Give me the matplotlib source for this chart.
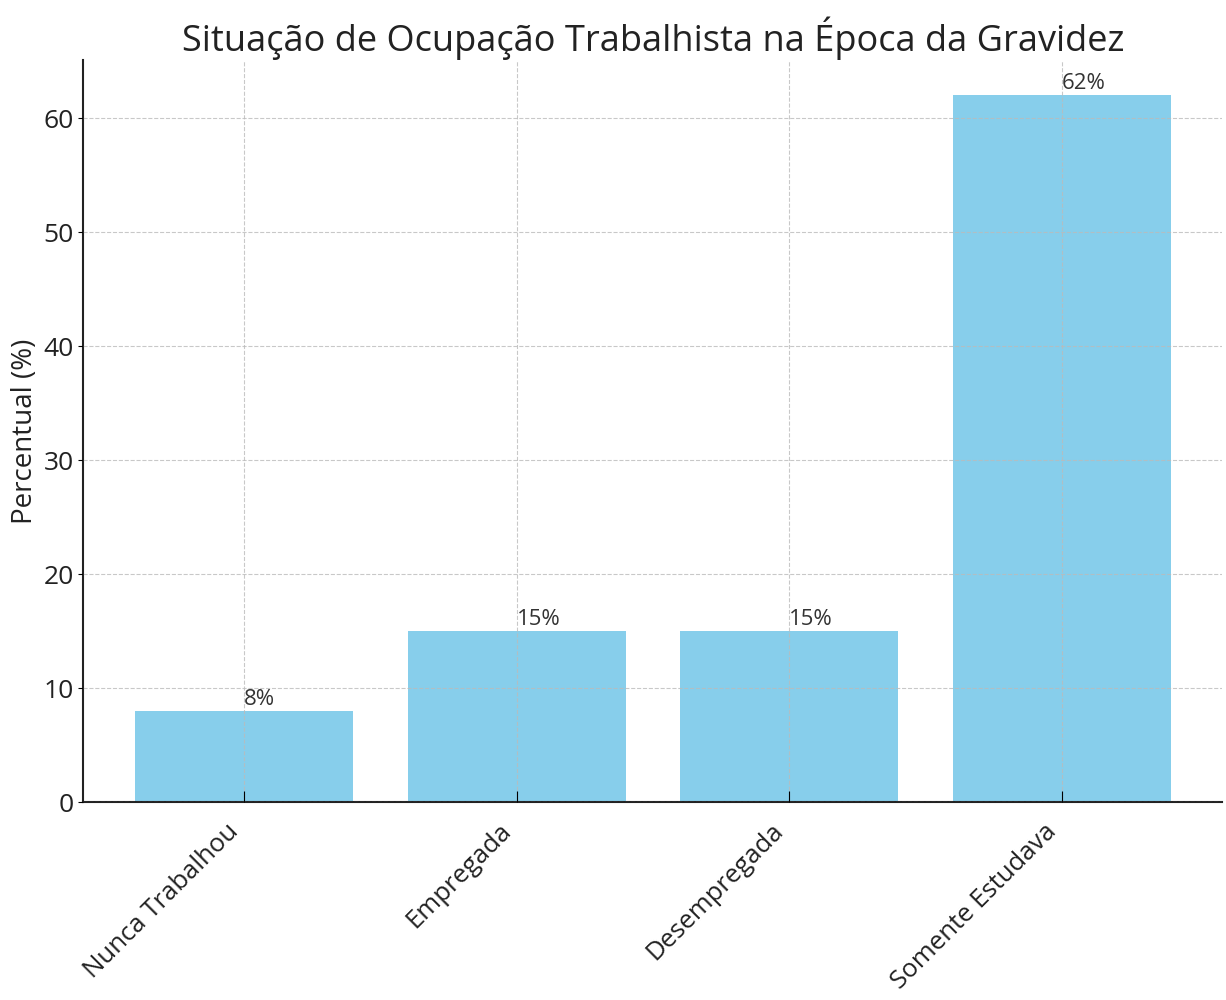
import numpy as np
import matplotlib
matplotlib.use('Agg')
import matplotlib.pyplot as plt

plt.rcParams['font.family'] = ['Open Sans', 'DejaVu Sans']

categorias = ['Nunca Trabalhou', 'Empregada', 'Desempregada', 'Somente Estudava']
percentuais = [8, 15, 15, 62]

fig, ax = plt.subplots(figsize=(12.26, 10), dpi=100)
fig.subplots_adjust(left=0.068, right=0.997, top=0.94, bottom=0.198)

bars = ax.bar(categorias, percentuais, color='skyblue', width=0.8)
ax.set_axisbelow(False)
ax.grid(True, linestyle='--', color='#bbbbbb', linewidth=0.8, alpha=0.8)

for b, v in zip(bars, percentuais):
    ax.text(b.get_x() + b.get_width() / 2, v + 0.1, f'{v}%', ha='left', va='bottom',
            fontsize=16, color='#333333')

ax.set_title('Situação de Ocupação Trabalhista na Época da Gravidez', fontsize=26,
             color='#222222', pad=4)
ax.set_ylabel('Percentual (%)', fontsize=20, color='#222222', labelpad=3)
ax.set_ylim(0, 65.1)
ax.tick_params(axis='y', labelsize=19, labelcolor='#222222')
ax.tick_params(axis='x', labelsize=18.5, labelcolor='#222222', direction='in',
               length=8, pad=12)
plt.setp(ax.get_xticklabels(), rotation=45, ha='right')

for s in ['top', 'right']:
    ax.spines[s].set_visible(False)
for s in ['left', 'bottom']:
    ax.spines[s].set_linewidth(1.5)
    ax.spines[s].set_color('#222222')

plt.savefig('out.png', dpi=100)
